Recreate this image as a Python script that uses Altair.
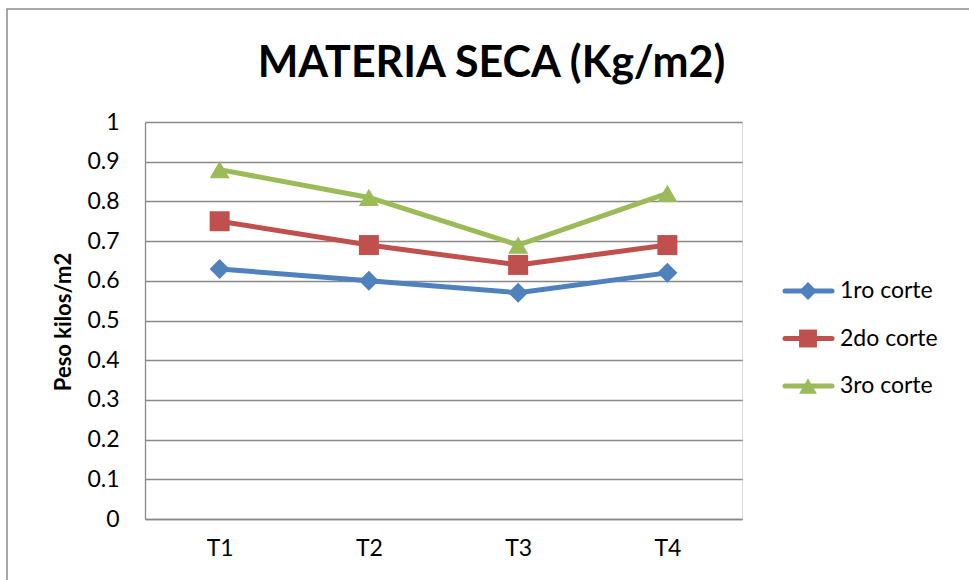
import altair as alt
import pandas as pd

categories = ["T1", "T2", "T3", "T4"]
series = ["1ro corte", "2do corte", "3ro corte"]
values_1ro = [0.63, 0.60, 0.57, 0.62]
values_2do = [0.75, 0.69, 0.64, 0.69]
values_3ro = [0.88, 0.81, 0.69, 0.82]
y_ticks = [0, 0.1, 0.2, 0.3, 0.4, 0.5, 0.6, 0.7, 0.8, 0.9, 1]
colors = ["#4F81BD", "#C0504D", "#9BBB59"]
shapes = ["diamond", "square", "triangle-up"]
title_text = "MATERIA SECA (Kg/m2)"

rows = []
for s, vals in zip(series, [values_1ro, values_2do, values_3ro]):
    for c, v in zip(categories, vals):
        rows.append({"cat": c, "series": s, "value": v})
df = pd.DataFrame(rows)
leg_df = pd.DataFrame({"series": series})
frame_df = pd.DataFrame({"t": [title_text]})

FONT = "Lato"
W, H = 597, 397

color = alt.Color("series:N", scale=alt.Scale(domain=series, range=colors), legend=None)
shape = alt.Shape("series:N", scale=alt.Scale(domain=series, range=shapes), legend=None)

x = alt.X("cat:N", sort=categories, title=None,
          scale=alt.Scale(paddingInner=0, paddingOuter=0),
          axis=alt.Axis(labelAngle=0, labelFontSize=23, labelFont=FONT, labelColor="#000",
                        labelPadding=18, ticks=False, domainColor="#898989", domainWidth=1.3,
                        grid=False))
y = alt.Y("value:Q", scale=alt.Scale(domain=[0, 1], nice=False),
          axis=alt.Axis(values=y_ticks, format="~g", title="Peso kilos/m2",
                        titleFont=FONT, titleFontSize=22, titleFontWeight="bold",
                        titleColor="#000", titleX=-82, titleY=H / 2 + 1, titleAngle=-90,
                        titleBaseline="middle", titleAlign="center",
                        labelFontSize=23, labelFont=FONT, labelColor="#000",
                        labelPadding=26, ticks=False, domainColor="#898989",
                        domainWidth=1.3, gridColor="#898989", gridWidth=1.3))

lines = alt.Chart(df).mark_line(strokeWidth=5, strokeCap="round", strokeJoin="round").encode(
    x=x, y=y, color=color, detail="series:N")
points = alt.Chart(df).mark_point(filled=True, opacity=1, size=400).encode(
    x=x, y=y, color=color, shape=shape)
main = alt.layer(lines, points)

leg_y = alt.Y("series:N", scale=alt.Scale(type="point", domain=series, range=[169, 264],
                                          padding=0), axis=None)
leg_rule = alt.Chart(leg_df).mark_rule(strokeWidth=5, strokeCap="round").encode(
    x=alt.value(640), x2=alt.value(687), y=leg_y, color=color)
leg_pt = alt.Chart(leg_df).mark_point(filled=True, opacity=1, size=320).encode(
    x=alt.value(663), y=leg_y, color=color, shape=shape)
leg_txt = alt.Chart(leg_df).mark_text(align="left", baseline="middle", fontSize=23,
                                      font=FONT, color="#000").encode(
    x=alt.value(695), y=leg_y, text="series:N")
legend = alt.layer(leg_rule, leg_pt, leg_txt)

frame = alt.Chart(frame_df).mark_rect(filled=False, stroke="#8c8c8c", strokeWidth=1.5).encode(
    x=alt.value(-138), x2=alt.value(840), y=alt.value(-113), y2=alt.value(470))
title = alt.Chart(frame_df).mark_text(font=FONT, fontSize=43, fontWeight="bold", color="#000",
                                      align="center", baseline="alphabetic").encode(
    x=alt.value(346.5), y=alt.value(-45), text="t:N")

chart = alt.layer(frame, title, main, legend).resolve_scale(y="independent").properties(
    width=W, height=H,
    autosize=alt.AutoSizeParams(type="none"),
    padding={"left": 145, "top": 122, "right": 227, "bottom": 61},
).configure_view(stroke="transparent").configure(background="white")

chart.save("out.html", embed_options={"renderer": "svg", "actions": False})
